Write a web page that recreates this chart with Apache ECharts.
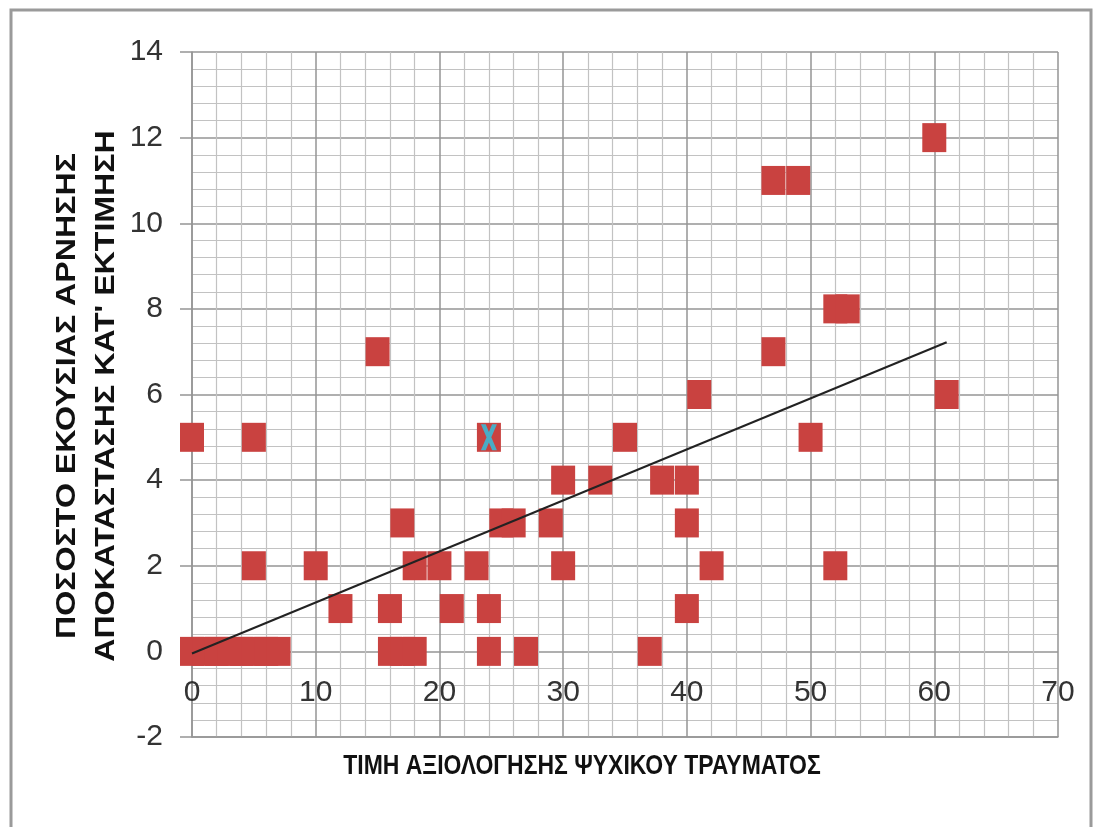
<!DOCTYPE html>
<html><head><meta charset="utf-8">
<script src="https://cdn.jsdelivr.net/npm/echarts@6/dist/echarts.min.js"></script>
<style>html,body{margin:0;padding:0;background:#fff}#c{width:1101px;height:827px}</style>
</head><body><div id="c"></div>
<script>
// ---- data ----
const xTitle = 'ΤΙΜΗ ΑΞΙΟΛΟΓΗΣΗΣ ΨΥΧΙΚΟΥ ΤΡΑΥΜΑΤΟΣ';
const yTitleLines = ['ΠΟΣΟΣΤΟ ΕΚΟΥΣΙΑΣ ΑΡΝΗΣΗΣ', 'ΑΠΟΚΑΤΑΣΤΑΣΗΣ ΚΑΤ\' ΕΚΤΙΜΗΣΗ'];
const traumaScore = [0,1,2,3,4,5,6,7, 0, 5,5, 10, 12, 15, 16,16, 17,18, 17, 18,20, 21, 23, 24,24,24, 25,26, 27, 29, 30,30, 33, 35, 37, 38, 40,40,40, 41, 42, 47,49, 47, 50, 52,53, 52, 60, 61];
const denialRate  = [0,0,0,0,0,0,0,0, 5, 5,2,  2,  1,  7,  1,0,   0,0,   3,  2,2,   1,  2,  5,1,0,    3,3,   0,  3,  4,2,   4,  5,  0,  4,  4,3,1,    6,  2,  11,11, 7, 5,  8,8,   2,  12, 6];
const highlightX = [24];
const highlightY = [5];
const trendX = [0, 61];
const trendY = [-0.05, 7.22];
const xTicks = {min: 0, max: 70, interval: 10};
const yTicks = {min: -2, max: 14, interval: 2};

const zip = (a, b) => a.map((v, i) => [v, b[i]]);
const FONT = '"Liberation Sans", Arial, sans-serif';
const MAJOR = '#959595', MINOR = '#c2c2c2';

const chart = echarts.init(document.getElementById('c'), null, {renderer: 'canvas'});
chart.setOption({
  animation: false,
  backgroundColor: '#fff',
  graphic: [
    {
      type: 'rect', shape: {x: 11, y: 10, width: 1080, height: 830},
      style: {fill: 'none', stroke: '#9a9a9a', lineWidth: 3}, silent: true, z: -10
    },
    {
      type: 'text', x: 582, y: 766, scaleX: 0.82,
      style: {text: xTitle, align: 'center', verticalAlign: 'middle',
              font: 'bold 28px "Liberation Sans", Arial, sans-serif', fill: '#111'}
    },
    {
      type: 'text', x: 87, y: 396, rotation: Math.PI / 2, scaleX: 1.19,
      style: {text: yTitleLines.join('\n'), align: 'center', verticalAlign: 'middle',
              font: 'bold 27px "Liberation Sans", Arial, sans-serif', lineHeight: 39, fill: '#111'}
    }
  ],
  grid: {left: 192, right: 43, top: 52, bottom: 90},
  xAxis: {
    type: 'value', min: xTicks.min, max: xTicks.max, interval: xTicks.interval,
    position: 'bottom',
    axisLine: {show: true, onZero: false, lineStyle: {color: MAJOR, width: 1.5}},
    axisTick: {show: false},
    axisLabel: {inside: true, margin: 29, color: '#333', fontFamily: FONT, fontSize: 30},
    splitLine: {show: true, lineStyle: {color: MAJOR, width: 1.5}},
    minorTick: {show: false, splitNumber: 5},
    minorSplitLine: {show: true, lineStyle: {color: MINOR, width: 1.2}}
  },
  yAxis: {
    type: 'value', min: yTicks.min, max: yTicks.max, interval: yTicks.interval,
    axisLine: {show: true, onZero: false, lineStyle: {color: MAJOR, width: 1.5}},
    axisTick: {show: true, inside: false, length: 12, lineStyle: {color: MAJOR, width: 1.5}},
    axisLabel: {margin: 29, color: '#333', fontFamily: FONT, fontSize: 30},
    splitLine: {show: true, lineStyle: {color: MAJOR, width: 1.5}},
    minorTick: {show: false, splitNumber: 5},
    minorSplitLine: {show: true, lineStyle: {color: MINOR, width: 1.2}}
  },
  series: [
    {
      type: 'scatter', data: zip(traumaScore, denialRate),
      symbol: 'rect', symbolSize: [24, 29],
      itemStyle: {color: '#C94240', opacity: 1}, z: 3
    },
    {
      type: 'scatter', data: zip(highlightX, highlightY),
      symbol: 'path://M0,0L3,0L5,6L7,0L10,0L6.5,10L10,20L7,20L5,14L3,20L0,20L3.5,10Z',
      symbolSize: [16, 26],
      itemStyle: {color: '#4AACC5', opacity: 1}, z: 4
    },
    {
      type: 'line', data: zip(trendX, trendY), symbol: 'none',
      lineStyle: {color: '#222', width: 2}, z: 5
    }
  ]
});
</script></body></html>
